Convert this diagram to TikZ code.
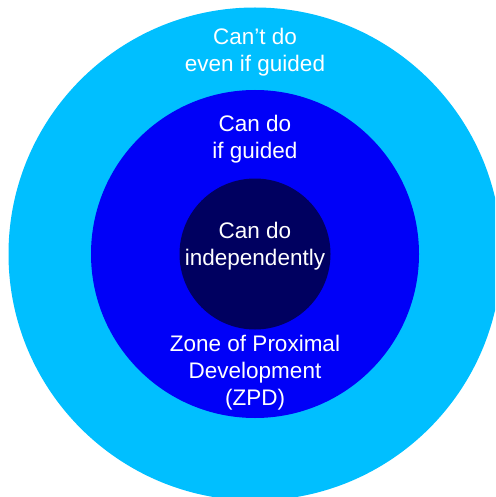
\documentclass[tikz,border=0pt]{standalone}
\usepackage{fontspec}
\setmainfont{Liberation Sans}
\usetikzlibrary{positioning}
\definecolor{skyring}{HTML}{00BFFF}
\definecolor{guidedring}{HTML}{0000F8}
\definecolor{selfcore}{HTML}{000060}
\tikzset{
zone/.style={circle, draw=none, inner sep=0pt, minimum size=#1},
caption/.style={text=white, align=center, inner sep=0pt, anchor=base,
  font=\fontsize{22.5}{27}\selectfont},
}

\begin{document}
\begin{tikzpicture}[x=1pt, y=1pt]
    \useasboundingbox (0,0) rectangle (495,-497);
    \clip (0,0) rectangle (495,-497);

    %rings, outside in
    \node[zone=493, fill=skyring]     (outer) at (255,-254) { };
    \node[zone=328, fill=guidedring] (middle) at (255,-254) { };
    \node[zone=151, fill=selfcore]    (inner) at (255,-254) { };

    %texts (anchored at the last line)
    \node[caption] (cant)  at (255,-72)  {Can’t do\\even if guided};
    \node[caption] (guide) at (255,-158) {Can do\\if guided};
    \node[caption] (alone) at (255,-265) {Can do\\independently};
    \node[caption] (zpd)   at (255,-405) {Zone of Proximal\\Development\\(ZPD)};

\end{tikzpicture}
\end{document}
